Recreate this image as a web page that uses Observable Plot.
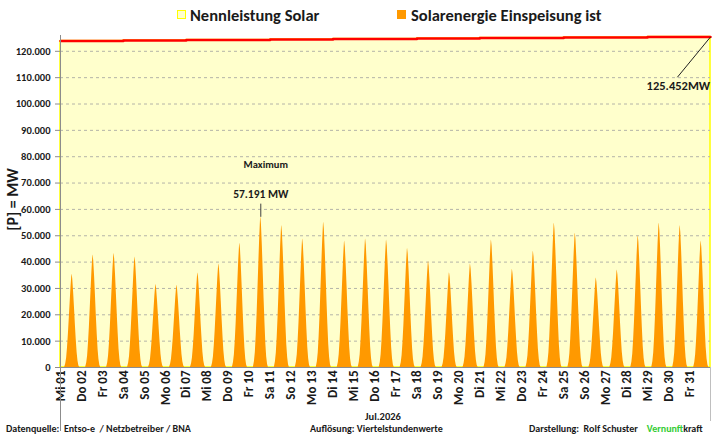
<!DOCTYPE html>
<html>
<head>
<meta charset="utf-8">
<script src="https://cdn.jsdelivr.net/npm/d3@7"></script>
<script src="https://cdn.jsdelivr.net/npm/@observablehq/plot@0.6"></script>
<style>
  html, body { margin: 0; padding: 0; background: #fff; }
  #wrap { position: relative; width: 716px; height: 436px; overflow: hidden; font-family: "Carlito", "Lato", sans-serif; color: #1a1a1a; }
  .abs { position: absolute; white-space: nowrap; }
  .legtxt { font-size: 16.5px; font-weight: bold; top: 5px; line-height: 20px; }
  .sw { position: absolute; width: 9px; height: 9px; top: 10px; box-sizing: border-box; }
  .foot { font-size: 10px; font-weight: bold; top: 422px; line-height: 14px; }
  #chart { position: absolute; left: 0; top: 30px; }
  #chart svg { overflow: visible; }
</style>
</head>
<body>
<div id="wrap">
  <div class="sw" style="left:177px; background:#FFFFCC; border:1.5px solid #FFFF00;"></div>
  <div class="abs legtxt" style="left:190px;">Nennleistung Solar</div>
  <div class="sw" style="left:397px; background:#FF9900;"></div>
  <div class="abs legtxt" style="left:411px;">Solarenergie Einspeisung ist</div>
  <div id="chart"></div>
  <div class="abs" style="left:60px; top:367px; width:1px; height:64px; background:#8C8C8C;"></div>
  <div class="abs" style="left:710px; top:367px; width:1px; height:54px; background:#BFBFBF;"></div>
  <div class="abs" style="left:343px; top:410px; width:80px; text-align:center; font-size:10.5px; font-weight:bold; line-height:14px;">Jul.2026</div>
  <div class="abs foot" style="left:6px;">Datenquelle:&nbsp; Entso-e&nbsp; / Netzbetreiber / BNA</div>
  <div class="abs foot" style="left:310px;">Auflösung: Viertelstundenwerte</div>
  <div class="abs foot" style="left:529px;">Darstellung:&nbsp; Rolf Schuster&nbsp;&nbsp;&nbsp; <span style="color:#33CC33;">Vernunft</span>kraft</div>
</div>
<script>
// ---- data ----
const dayLabels = ["Mi 01","Do 02","Fr 03","Sa 04","So 05","Mo 06","Di 07","Mi 08","Do 09","Fr 10",
  "Sa 11","So 12","Mo 13","Di 14","Mi 15","Do 16","Fr 17","Sa 18","So 19","Mo 20",
  "Di 21","Mi 22","Do 23","Fr 24","Sa 25","So 26","Mo 27","Di 28","Mi 29","Do 30","Fr 31"];
// daily peak feed-in (MW)
const dailyPeaks = [35400,42700,43300,41900,31500,31200,35900,39300,47200,57191,
  53900,48800,55100,48000,48800,48400,45200,40300,36000,39300,
  48400,37300,44100,54800,51000,34000,37000,50000,54800,53900,48000];
// intraday shape (hour of day, share of daily peak)
const profileHours = [4.75, 6, 7, 8, 9, 10, 11, 12, 13, 13.25, 14, 15, 16, 17, 18, 19, 20, 21, 22];
const profileShare = [0, 0.04, 0.10, 0.21, 0.35, 0.52, 0.69, 0.86, 0.99, 1.0, 0.95, 0.81, 0.64, 0.46, 0.30, 0.16, 0.07, 0.02, 0];
// installed capacity (MW), step changes at day offsets
const capDays = [0, 3, 6, 10, 13, 17, 20, 24, 28, 31];
const capValues = [123900, 124100, 124300, 124500, 124700, 124850, 125050, 125250, 125452, 125452];
const yTicks = [0,10000,20000,30000,40000,50000,60000,70000,80000,90000,100000,110000,120000];

// ---- tables ----
const solar = [];
dailyPeaks.forEach((p, d) => {
  profileHours.forEach((h, k) => solar.push({day: d, t: d + h / 24, v: p * profileShare[k]}));
});
const cap = capDays.map((d, i) => ({t: d, v: capValues[i]}));

const iMax = d3.maxIndex(dailyPeaks);
const maxPt = {t: iMax + profileHours[profileShare.indexOf(1)] / 24, v: dailyPeaks[iMax]};
const endPt = cap[cap.length - 1];
const endLabel = {t: endPt.t - 1.58, v: endPt.v - 15300};

const de = v => v === 0 ? "0" : d3.format(",")(v).replace(/,/g, ".");

const chart = Plot.plot({
  width: 716,
  height: 378,
  marginLeft: 60,
  marginRight: 6,
  marginTop: 5,
  marginBottom: 41,
  style: {fontFamily: "Carlito, Lato, sans-serif", color: "#1a1a1a", background: "transparent"},
  x: {domain: [0, 31]},
  y: {domain: [0, 126000]},
  marks: [
    Plot.areaY(cap, {x: "t", y: "v", curve: "step-after", fill: "#FFFFCC", stroke: "#FFFF00", strokeWidth: 1.5}),
    Plot.gridY(yTicks.filter(v => v > 0), {stroke: "#B4B4A8", strokeOpacity: 1, strokeDasharray: "3,3"}),
    Plot.areaY(solar, {x: "t", y: "v", z: "day", fill: "#FF9900", curve: "linear"}),
    Plot.line(cap, {x: "t", y: "v", curve: "step-after", stroke: "#FF0000", strokeWidth: 2.5}),
    Plot.ruleY([0], {stroke: "#8C8C8C"}),
    Plot.ruleX([0], {stroke: "#8C8C8C"}),
    Plot.axisY({ticks: yTicks, tickFormat: de, tickSize: 5, tickPadding: 5, fontSize: 10.5, fontWeight: "bold", label: null, stroke: "#8C8C8C"}),
    Plot.axisX({ticks: d3.range(dayLabels.length), tickFormat: i => dayLabels[i], tickRotate: -90, tickSize: 0, tickPadding: 3, fontSize: 13, fontWeight: "bold", label: null}),
    Plot.text(["[P] = MW"], {frameAnchor: "left", textAnchor: "middle", dx: -48, dy: -2, rotate: -90, fontSize: 16, fontWeight: "bold"}),
    // maximum annotation
    Plot.link([maxPt], {x1: "t", y1: "v", x2: "t", y2: d => d.v + 5000, stroke: "#404040", strokeWidth: 1}),
    Plot.text([maxPt], {x: "t", y: "v", text: d => de(d.v) + " MW", dy: -22, fontSize: 11.5, fontWeight: "bold"}),
    Plot.text([maxPt], {x: "t", y: "v", text: () => "Maximum", dy: -52, dx: 5, fontSize: 10.5, fontWeight: "bold"}),
    // capacity annotation
    Plot.link([endPt], {x1: "t", y1: "v", x2: () => endLabel.t, y2: () => endLabel.v, stroke: "#202020", strokeWidth: 1}),
    Plot.text([endPt], {x: () => endLabel.t, y: () => endLabel.v, text: d => de(d.v) + "MW", dx: 1, dy: 9, fontSize: 12.5, fontWeight: "bold"})
  ]
});
document.getElementById("chart").appendChild(chart);
</script>
</body>
</html>
